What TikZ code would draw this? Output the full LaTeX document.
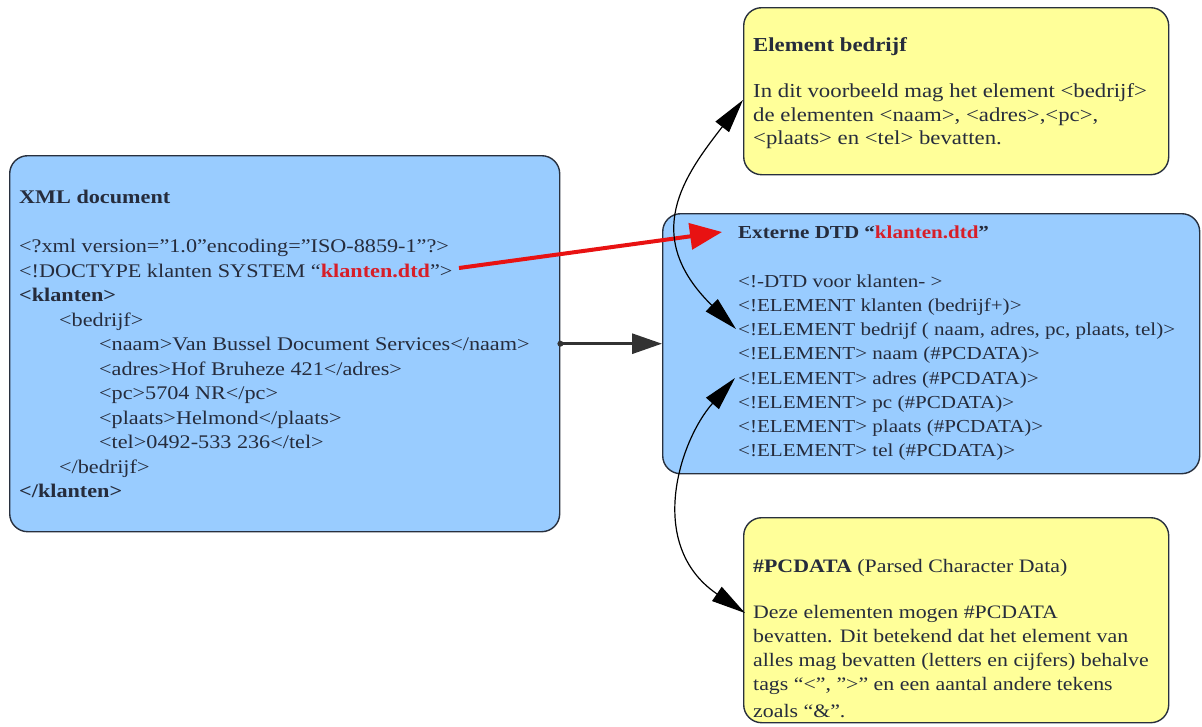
\documentclass[tikz,border=0pt]{standalone}
\usepackage{fontspec}
\setmainfont{Liberation Serif}[FakeStretch=1.15]
\usetikzlibrary{arrows.meta}

\definecolor{boxblue}{RGB}{153,204,255}
\definecolor{boxyellow}{RGB}{255,255,153}
\definecolor{edgecol}{RGB}{40,48,62}
\definecolor{txtcol}{RGB}{38,44,60}
\definecolor{dtdred}{RGB}{215,30,40}
\definecolor{linkred}{RGB}{232,18,18}
\definecolor{linkgray}{RGB}{50,50,50}

\newcommand\dtdname[1]{\textcolor{dtdred}{\textbf{#1}}}

\tikzset{
  panel/.style={draw=edgecol, line width=1.4pt, rounded corners=18pt,
                anchor=north west, inner sep=0pt},
  bluepanel/.style={panel, fill=boxblue},
  yellowpanel/.style={panel, fill=boxyellow},
  body/.style={anchor=north west, align=left, inner sep=0pt, text=txtcol,
               font=\fontsize{19.3}{24.5}\selectfont},
  redlink/.style={draw=linkred, line width=4pt,
                  -{Triangle[length=32pt,width=26pt]}},
  graylink/.style={draw=linkgray, line width=3pt,
                   -{Triangle[length=30pt,width=20pt]}},
  curvelink/.style={draw=black, line width=1.2pt,
                    {Triangle[length=34pt,width=17pt]}-{Triangle[length=34pt,width=17pt]}},
}

\begin{document}
\begin{tikzpicture}[x=1pt,y=-1pt]
\useasboundingbox (0,0) rectangle (1202,726);

% the four panels
\node[bluepanel, minimum width=550pt, minimum height=376pt] (xml) at (9,155) {};
\node[bluepanel, minimum width=537pt, minimum height=260pt] (dtd) at (662,213) {};
\node[yellowpanel, minimum width=425pt, minimum height=167pt] (elem) at (743,7) {};
\node[yellowpanel, minimum width=425pt, minimum height=205pt] (pcdata) at (743,517) {};

% XML document
\node[body] (xmltext) at (19,190) {\textbf{XML document}\\[24.5pt]
<?xml version=”1.0”encoding=”ISO-8859-1”?>\\
<!DOCTYPE klanten SYSTEM “\dtdname{klanten.dtd}”>\\
\textbf{<klanten>}\\
\hspace*{40pt}<bedrijf>\\
\hspace*{80pt}<naam>Van Bussel Document Services</naam>\\
\hspace*{80pt}<adres>Hof Bruheze 421</adres>\\
\hspace*{80pt}<pc>5704 NR</pc>\\
\hspace*{80pt}<plaats>Helmond</plaats>\\
\hspace*{80pt}<tel>0492-533 236</tel>\\
\hspace*{40pt}</bedrijf>\\
\textbf{</klanten>}};

% external DTD
\node[body, font=\fontsize{18.3}{24.2}\selectfont] (dtdtext) at (738,226)
{\textbf{Externe DTD “}\dtdname{klanten.dtd}\textbf{”}\\[24.2pt]
<!-DTD voor klanten- >\\
<!ELEMENT klanten (bedrijf+)>\\
<!ELEMENT bedrijf ( naam, adres, pc, plaats, tel)>\\
<!ELEMENT> naam (\#PCDATA)>\\
<!ELEMENT> adres (\#PCDATA)>\\
<!ELEMENT> pc (\#PCDATA)>\\
<!ELEMENT> plaats (\#PCDATA)>\\
<!ELEMENT> tel (\#PCDATA)>};

% note on element bedrijf
\node[body, font=\fontsize{19.8}{23.3}\selectfont] (elemtext) at (753,37)
{\textbf{Element bedrijf}\\[23.3pt]
In dit voorbeeld mag het element <bedrijf>\\
de elementen <naam>, <adres>,<pc>,\\
<plaats> en <tel> bevatten.};

% note on #PCDATA
\node[body, font=\fontsize{19}{24}\selectfont] (pcdatatext) at (753,559)
{\textbf{\#PCDATA} (Parsed Character Data)\\[22pt]
Deze elementen mogen \#PCDATA\\
bevatten. Dit betekend dat het element van\\
alles mag bevatten (letters en cijfers) behalve\\
tags “<”, ”>” en een aantal andere tekens\\[3pt]
zoals “\&”.};

% connector end points
\coordinate (doctypeEnd) at (459,268);
\coordinate (dtdTitle) at (722,232);
\coordinate (elemIn) at (743,100);
\coordinate (bedrijfLine) at (736,329);
\coordinate (adresLine) at (735,378);
\coordinate (pcdataIn) at (745,613);

% connectors
\draw[redlink] (doctypeEnd) -- (dtdTitle);
\fill[linkgray] (xml.east) circle (3pt);
\draw[graylink] (xml.east) -- (dtd.west);
\draw[curvelink] (elemIn) .. controls (685,175) and (640,235) .. (bedrijfLine);
\draw[curvelink] (adresLine) .. controls (680,440) and (645,545) .. (pcdataIn);
\end{tikzpicture}
\end{document}
